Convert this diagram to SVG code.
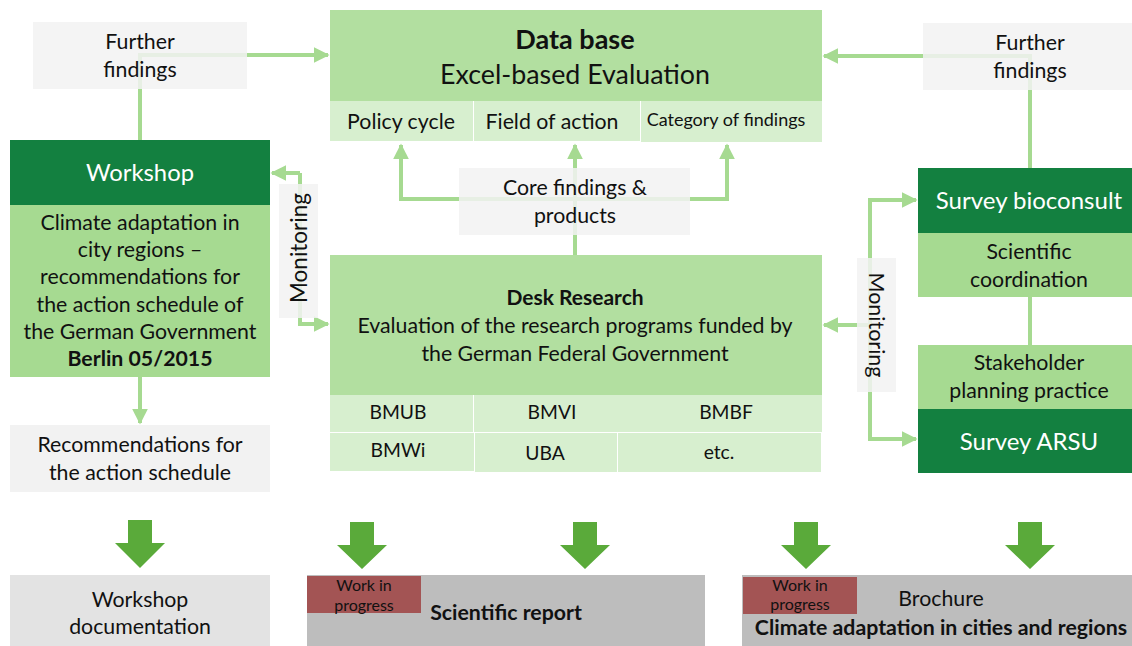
<svg xmlns="http://www.w3.org/2000/svg" width="1132" height="646" viewBox="0 0 1132 646">
<defs>
<style>
text{font-family:Lato,"Open Sans","Liberation Sans",sans-serif;fill:#111;text-anchor:middle}
.t20{font-size:21.3px}
.t18{font-size:19.3px}
.w{fill:#fff}
.b{font-weight:bold}
.grey{fill:#f2f2f2}
.mid{fill:#b2dfa0}
.light{fill:#d7efcf}
.lg{fill:#a6da91}
.dark{fill:#138040}
.conn{fill:none;stroke:#a6da91;stroke-width:4}
.big{fill:#5aaa3a}
.wip{fill:#a35454}
</style>
<marker id="ah" viewBox="0 0 10 10" refX="9" refY="5" markerWidth="4" markerHeight="4.4" orient="auto" markerUnits="strokeWidth">
<path d="M0,0 L10,5 L0,10 Z" fill="#a6da91"/>
</marker>
</defs>
<rect width="1132" height="646" fill="#fff"/>

<g id="connectors">
<path class="conn" d="M140,140 V55 H328" marker-end="url(#ah)"/>
<path class="conn" d="M1030,168 V56 H824" marker-end="url(#ah)"/>
<path class="conn" d="M140,377 V423" marker-end="url(#ah)"/>
<path class="conn" d="M300,173 H272" marker-end="url(#ah)"/>
<path class="conn" d="M300,173 V324 H328" marker-end="url(#ah)"/>
<path class="conn" d="M575,255 V145" marker-end="url(#ah)"/>
<path class="conn" d="M575,199 H401 V145" marker-end="url(#ah)"/>
<path class="conn" d="M575,199 H727 V145" marker-end="url(#ah)"/>
<path class="conn" d="M870,325 H824" marker-end="url(#ah)"/>
<path class="conn" d="M870,325 V200 H916" marker-end="url(#ah)"/>
<path class="conn" d="M870,325 V439 H916" marker-end="url(#ah)"/>
<path class="conn" d="M1030,297 V345"/>
</g>

<g id="further-left">
<rect class="grey" x="33" y="22" width="214" height="67" opacity="0.85"/>
<text class="t20" x="140" y="49">Further</text>
<text class="t20" x="140" y="77">findings</text>
</g>

<g id="further-right">
<rect class="grey" x="923" y="23" width="209" height="67" opacity="0.85"/>
<text class="t20" x="1030" y="50">Further</text>
<text class="t20" x="1030" y="78">findings</text>
</g>

<g id="database">
<rect class="mid" x="330" y="10" width="492" height="91"/>
<rect class="light" x="330" y="101" width="143" height="40"/>
<rect class="light" x="474" y="101" width="166" height="40"/>
<rect class="light" x="641" y="101" width="181" height="41"/>
<text x="575" y="49" style="font-size:27px" class="b">Data base</text>
<text x="575" y="84" style="font-size:26.8px">Excel-based Evaluation</text>
<text class="t20" x="401" y="129">Policy cycle</text>
<text class="t20" x="552" y="129">Field of action</text>
<text x="726" y="126" style="font-size:18px">Category of findings</text>
</g>

<g id="core-findings">
<rect class="grey" x="459" y="168" width="231" height="67" opacity="0.85"/>
<text class="t20" x="575" y="195">Core findings &amp;</text>
<text class="t20" x="575" y="223">products</text>
</g>

<g id="workshop">
<rect class="dark" x="10" y="140" width="260" height="65"/>
<rect class="lg" x="10" y="205" width="260" height="172"/>
<text class="w" x="140" y="181" style="font-size:23.8px">Workshop</text>
<text class="t20" x="140" y="230">Climate adaptation in</text>
<text class="t20" x="140" y="257">city regions –</text>
<text class="t20" x="140" y="284">recommendations for</text>
<text class="t20" x="140" y="312">the action schedule of</text>
<text class="t20" x="140" y="339">the German Government</text>
<text class="t20 b" x="140" y="366">Berlin 05/2015</text>
</g>

<g id="recommendations">
<rect class="grey" x="10" y="425" width="260" height="67"/>
<text class="t20" x="140" y="452">Recommendations for</text>
<text class="t20" x="140" y="480">the action schedule</text>
</g>

<g id="monitoring-left">
<rect class="grey" x="279" y="184" width="39" height="134" opacity="0.85"/>
<text transform="translate(307,248) rotate(-90)" style="font-size:22.5px">Monitoring</text>
</g>

<g id="desk-research">
<rect class="mid" x="330" y="255" width="492" height="140"/>
<rect class="light" x="330" y="395" width="143" height="37"/>
<rect class="light" x="474" y="395" width="348" height="37"/>
<rect class="light" x="330" y="433" width="144" height="38"/>
<rect class="light" x="475" y="433" width="142" height="39"/>
<rect class="light" x="618" y="433" width="203" height="39"/>
<text class="b" x="575" y="305" style="font-size:21px">Desk Research</text>
<text x="575" y="333" style="font-size:21.3px">Evaluation of the research programs funded by</text>
<text x="575" y="361" style="font-size:21.3px">the German Federal Government</text>
<text class="t18" x="398" y="419">BMUB</text>
<text class="t18" x="552" y="419">BMVI</text>
<text class="t18" x="726" y="419">BMBF</text>
<text class="t18" x="398" y="457">BMWi</text>
<text class="t18" x="545" y="460">UBA</text>
<text class="t18" x="719" y="459">etc.</text>
</g>

<g id="monitoring-right">
<rect class="grey" x="857" y="258" width="39" height="134" opacity="0.85"/>
<text transform="translate(869,325) rotate(90)" style="font-size:21.5px">Monitoring</text>
</g>

<g id="survey-bioconsult">
<rect class="dark" x="918" y="168" width="214" height="65"/>
<rect class="lg" x="918" y="233" width="214" height="64"/>
<text class="w" x="1029" y="209" style="font-size:24px">Survey bioconsult</text>
<text class="t20" x="1029" y="259">Scientific</text>
<text class="t20" x="1029" y="287">coordination</text>
</g>

<g id="survey-arsu">
<rect class="lg" x="918" y="345" width="214" height="64"/>
<rect class="dark" x="918" y="409" width="214" height="64"/>
<text class="t20" x="1029" y="370">Stakeholder</text>
<text class="t20" x="1029" y="398">planning practice</text>
<text class="w" x="1029" y="450" style="font-size:24px">Survey ARSU</text>
</g>

<g id="big-arrows">
<path class="big" d="M128,520 H152 V543 H165 L140,568 L115,543 H128 Z"/>
<path class="big" d="M350,522 H374 V545 H387 L362,569 L337,545 H350 Z"/>
<path class="big" d="M573,522 H597 V545 H610 L585,569 L560,545 H573 Z"/>
<path class="big" d="M794,522 H818 V545 H831 L806,569 L781,545 H794 Z"/>
<path class="big" d="M1018,522 H1042 V545 H1055 L1030,569 L1005,545 H1018 Z"/>
</g>

<g id="workshop-documentation">
<rect x="10" y="575" width="260" height="71" fill="#e3e3e3"/>
<text class="t20" x="140" y="607">Workshop</text>
<text class="t20" x="140" y="634">documentation</text>
</g>

<g id="scientific-report">
<rect x="307" y="575" width="398" height="71" fill="#bdbdbd"/>
<rect class="wip" x="307" y="576" width="114" height="37"/>
<text x="364" y="591" style="font-size:16px">Work in</text>
<text x="364" y="611" style="font-size:16px">progress</text>
<text class="b" x="506" y="620" style="font-size:21.3px">Scientific report</text>
</g>

<g id="brochure">
<rect x="742" y="575" width="390" height="71" fill="#bdbdbd"/>
<rect class="wip" x="743" y="577" width="114" height="37"/>
<text x="800" y="591" style="font-size:16px">Work in</text>
<text x="800" y="610" style="font-size:16px">progress</text>
<text class="t20" x="941" y="606">Brochure</text>
<text class="b" x="941" y="635" style="font-size:21.3px">Climate adaptation in cities and regions</text>
</g>
</svg>
